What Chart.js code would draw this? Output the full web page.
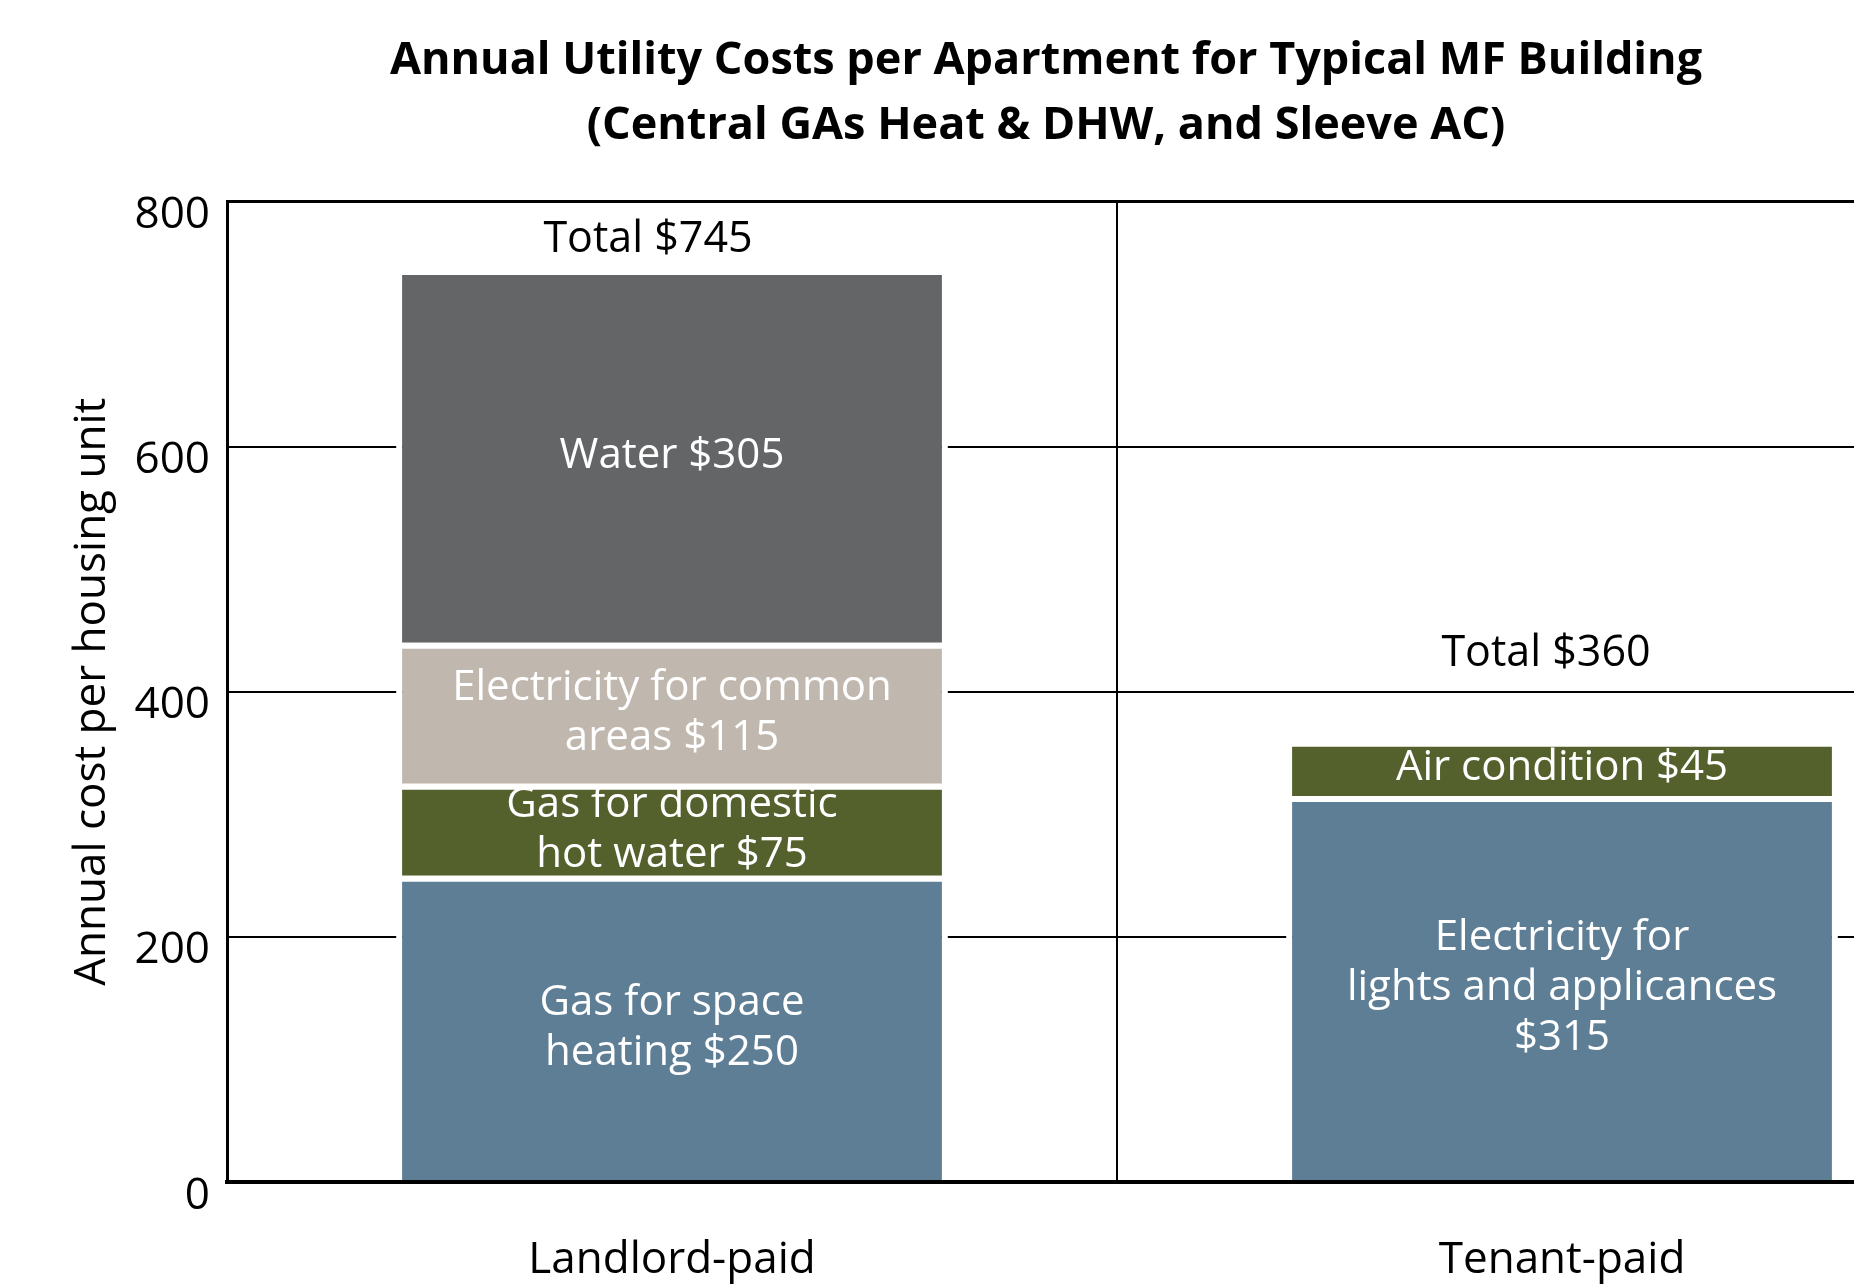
<!DOCTYPE html>
<html>
<head>
<meta charset="utf-8">
<title>Annual Utility Costs per Apartment</title>
<script src="https://cdn.jsdelivr.net/npm/chart.js@4.4.1/dist/chart.umd.min.js"></script>
<style>
    html, body { margin: 0; padding: 0; background: #fff; overflow: hidden; }
    #wrap { width: 2092px; height: 1287px; }
</style>
</head>
<body>
<div id="wrap"><canvas id="utilityChart" width="2092" height="1287"></canvas></div>
<script>
// ============================================
// Data
// ============================================

const categories = ["Landlord-paid", "Tenant-paid"];
const yTickValues = [0, 200, 400, 600, 800];

// stack levels, bottom to top
const baseCosts = [250, 315];
const baseNames = ["Gas for space\nheating", "Electricity for\nlights and applicances\n"];

const secondCosts = [75, 45];
const secondNames = ["Gas for domestic\nhot water", "Air condition"];

const commonCosts = [115, null];
const commonNames = ["Electricity for common\nareas", ""];

const waterCosts = [305, null];
const waterNames = ["Water", ""];

function segmentText(name, value) {
    const prefix = name.endsWith("\n") ? name : name + " ";
    return `${prefix}$${value}`;
}

// white labels inside each segment + "Total $x" above each bar
const barLabels = {
    id: "barLabels",
    afterDatasetsDraw(chart, args, opts) {
        const ctx = chart.ctx;
        ctx.save();
        ctx.font = opts.font;
        ctx.textAlign = "center";
        ctx.textBaseline = "middle";
        ctx.fillStyle = "#ffffff";

        chart.data.datasets.forEach((ds, di) => {
            const meta = chart.getDatasetMeta(di);
            meta.data.forEach((bar, i) => {
                const value = ds.data[i];
                if (value == null) return;
                const lines = segmentText(ds.names[i], value).split("\n");
                const cy = (bar.y + bar.base) / 2;
                lines.forEach((line, k) => {
                    ctx.fillText(line, bar.x, cy + (k - (lines.length - 1) / 2) * opts.lineHeight);
                });
            });
        });

        ctx.font = opts.totalFont;
        ctx.fillStyle = "#000000";
        const yScale = chart.scales.y;
        const firstMeta = chart.getDatasetMeta(0);
        categories.forEach((cat, i) => {
            const total = chart.data.datasets.reduce((sum, ds) => sum + (ds.data[i] || 0), 0);
            const x = firstMeta.data[i].x + opts.totalDx[i];
            const y = yScale.getPixelForValue(total) + opts.totalDy[i];
            ctx.fillText(`Total $${total}`, x, y);
        });
        ctx.restore();
    }
};

Chart.defaults.font.family = "'Open Sans', sans-serif";
Chart.defaults.color = "#000000";

new Chart(document.getElementById("utilityChart"), {
    type: "bar",
    data: {
        labels: categories,
        datasets: [
            { data: baseCosts, names: baseNames, backgroundColor: "#5E7E96" },
            { data: secondCosts, names: secondNames, backgroundColor: "#55612D" },
            { data: commonCosts, names: commonNames, backgroundColor: "#C0B8AF" },
            { data: waterCosts, names: waterNames, backgroundColor: "#646567" }
        ].map((ds) => ({
            ...ds,
            borderColor: "#ffffff",
            borderWidth: 6,
            barPercentage: 1,
            categoryPercentage: 0.62
        }))
    },
    options: {
        responsive: false,
        animation: false,
        layout: { padding: { left: 85, right: 85, top: 0, bottom: 0 } },
        plugins: {
            legend: { display: false },
            tooltip: { enabled: false },
            title: {
                display: true,
                text: [
                    "Annual Utility Costs per Apartment for Typical MF Building",
                    "(Central GAs Heat & DHW, and Sleeve AC)"
                ],
                color: "#000000",
                font: { size: 45, weight: "bold", lineHeight: 1.44 },
                padding: { top: 29, bottom: 43 }
            },
            barLabels: {
                font: "42px 'Open Sans', sans-serif",
                totalFont: "43px 'Open Sans', sans-serif",
                lineHeight: 50,
                totalDx: [-24, -16],
                totalDy: [-29, -87]
            }
        },
        scales: {
            x: {
                stacked: true,
                offset: true,
                grid: { color: "#000000", lineWidth: 2, drawTicks: false },
                border: { color: "#000000", width: 4, z: 1 },
                ticks: { font: { size: 44 }, padding: 52, color: "#000000" },
                afterFit: (scale) => { scale.height = 105; }
            },
            y: {
                stacked: true,
                min: 0,
                max: 800,
                afterBuildTicks: (scale) => {
                    scale.ticks = yTickValues.map((v) => ({ value: v }));
                },
                grid: {
                    color: "#000000",
                    lineWidth: (c) => (c.tick && c.tick.value === 800 ? 3 : 2),
                    drawTicks: false
                },
                border: { color: "#000000", width: 3 },
                ticks: { font: { size: 44 }, padding: 17, labelOffset: 14, color: "#000000" },
                title: {
                    display: true,
                    text: "Annual cost per housing unit",
                    font: { size: 44, lineHeight: 1 },
                    color: "#000000",
                    padding: { top: -15, bottom: 0 }
                },
                afterFit: (scale) => { scale.width = 142; }
            }
        }
    },
    plugins: [barLabels]
});
</script>
</body>
</html>
